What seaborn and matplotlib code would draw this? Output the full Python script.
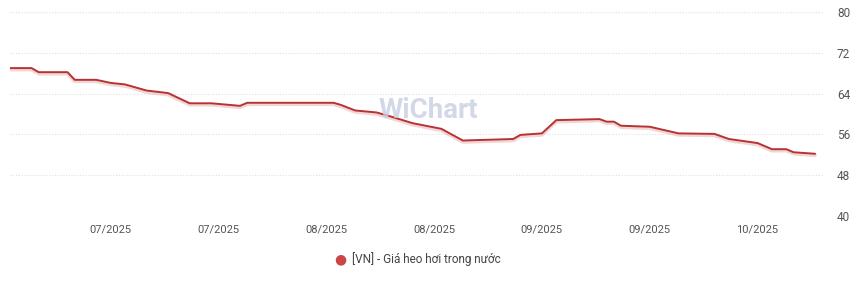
import matplotlib
matplotlib.use("Agg")
import matplotlib.pyplot as plt
import matplotlib.dates as mdates
import seaborn as sns
import pandas as pd
import numpy as np

# ---- data ----
start_date = "2025-06-21"
day_offsets = [0, 3, 4, 8, 9, 12, 14, 16, 19, 22, 25, 28, 32, 33, 45, 46, 48, 51, 53, 56,
               60, 63, 70, 71, 74, 76, 82, 83, 84, 85, 89, 93, 98, 100, 104, 106, 108, 109, 112]
prices = [69.0, 69.0, 68.2, 68.2, 66.7, 66.7, 66.1, 65.8, 64.6, 64.1, 62.1, 62.1, 61.6, 62.2, 62.2,
          61.8, 60.7, 60.3, 59.5, 58.2, 57.1, 54.8, 55.1, 55.9, 56.2, 58.8, 59.0, 58.5, 58.5, 57.7,
          57.5, 56.2, 56.1, 55.1, 54.3, 53.1, 53.1, 52.5, 52.2]
series_name = "[VN] - Giá heo hơi trong nước"
tick_dates = ["2025-07-05", "2025-07-20", "2025-08-04", "2025-08-19", "2025-09-03", "2025-09-18", "2025-10-03"]
y_ticks = [40, 48, 56, 64, 72, 80]

dates = pd.Timestamp(start_date) + pd.to_timedelta(day_offsets, unit="D")
df = pd.DataFrame({"date": dates, "price": prices})

sns.set_theme(style="white")
plt.rcParams['font.family'] = ['Roboto', 'DejaVu Sans']

fig = plt.figure(figsize=(8.64, 2.82), dpi=100)
ax = fig.add_axes([10 / 864, 66 / 282, 813 / 864, 204 / 282])

line_color = "#b83232"
# soft shadow under the line
ax.plot(df["date"], df["price"] - 0.3, color="#e8b4b4", lw=2.6, alpha=0.55, zorder=2)
sns.lineplot(data=df, x="date", y="price", ax=ax, color=line_color, lw=1.4, zorder=3, legend=False)

ax.set_ylim(40, 80)
x0 = pd.Timestamp(start_date)
ax.set_xlim(x0, x0 + pd.Timedelta(days=113.1))
ax.set_yticks(y_ticks)
ax.yaxis.tick_right()
ax.tick_params(axis="y", length=0, pad=10, labelsize=8.5, labelcolor="#555555")
ax.set_xticks(pd.to_datetime(tick_dates))
ax.xaxis.set_major_formatter(mdates.DateFormatter("%m/%Y"))
ax.tick_params(axis="x", length=0, pad=6, labelsize=8, labelcolor="#555555")
ax.set_xlabel("")
ax.set_ylabel("")
for s in ax.spines.values():
    s.set_visible(False)
ax.grid(axis="y", color="#e0e0e0", lw=0.8, linestyle=(0, (1, 1.5)))
ax.grid(axis="x", visible=False)

# watermark
fig.text(428 / 864, 1 - 111 / 282, "WiChart", ha="center", va="center", fontsize=20,
         fontweight="bold", color="#c9cfe3", alpha=0.8, zorder=1)

# legend
fig.text(340 / 864, 1 - 259 / 282, "●", ha="center", va="center", fontsize=10, color="#c94747",
         family=['DejaVu Sans'])
fig.text(352 / 864, 1 - 259 / 282, series_name, ha="left", va="center", fontsize=8.5, color="#444444")

fig.savefig("out.png", dpi=100)
